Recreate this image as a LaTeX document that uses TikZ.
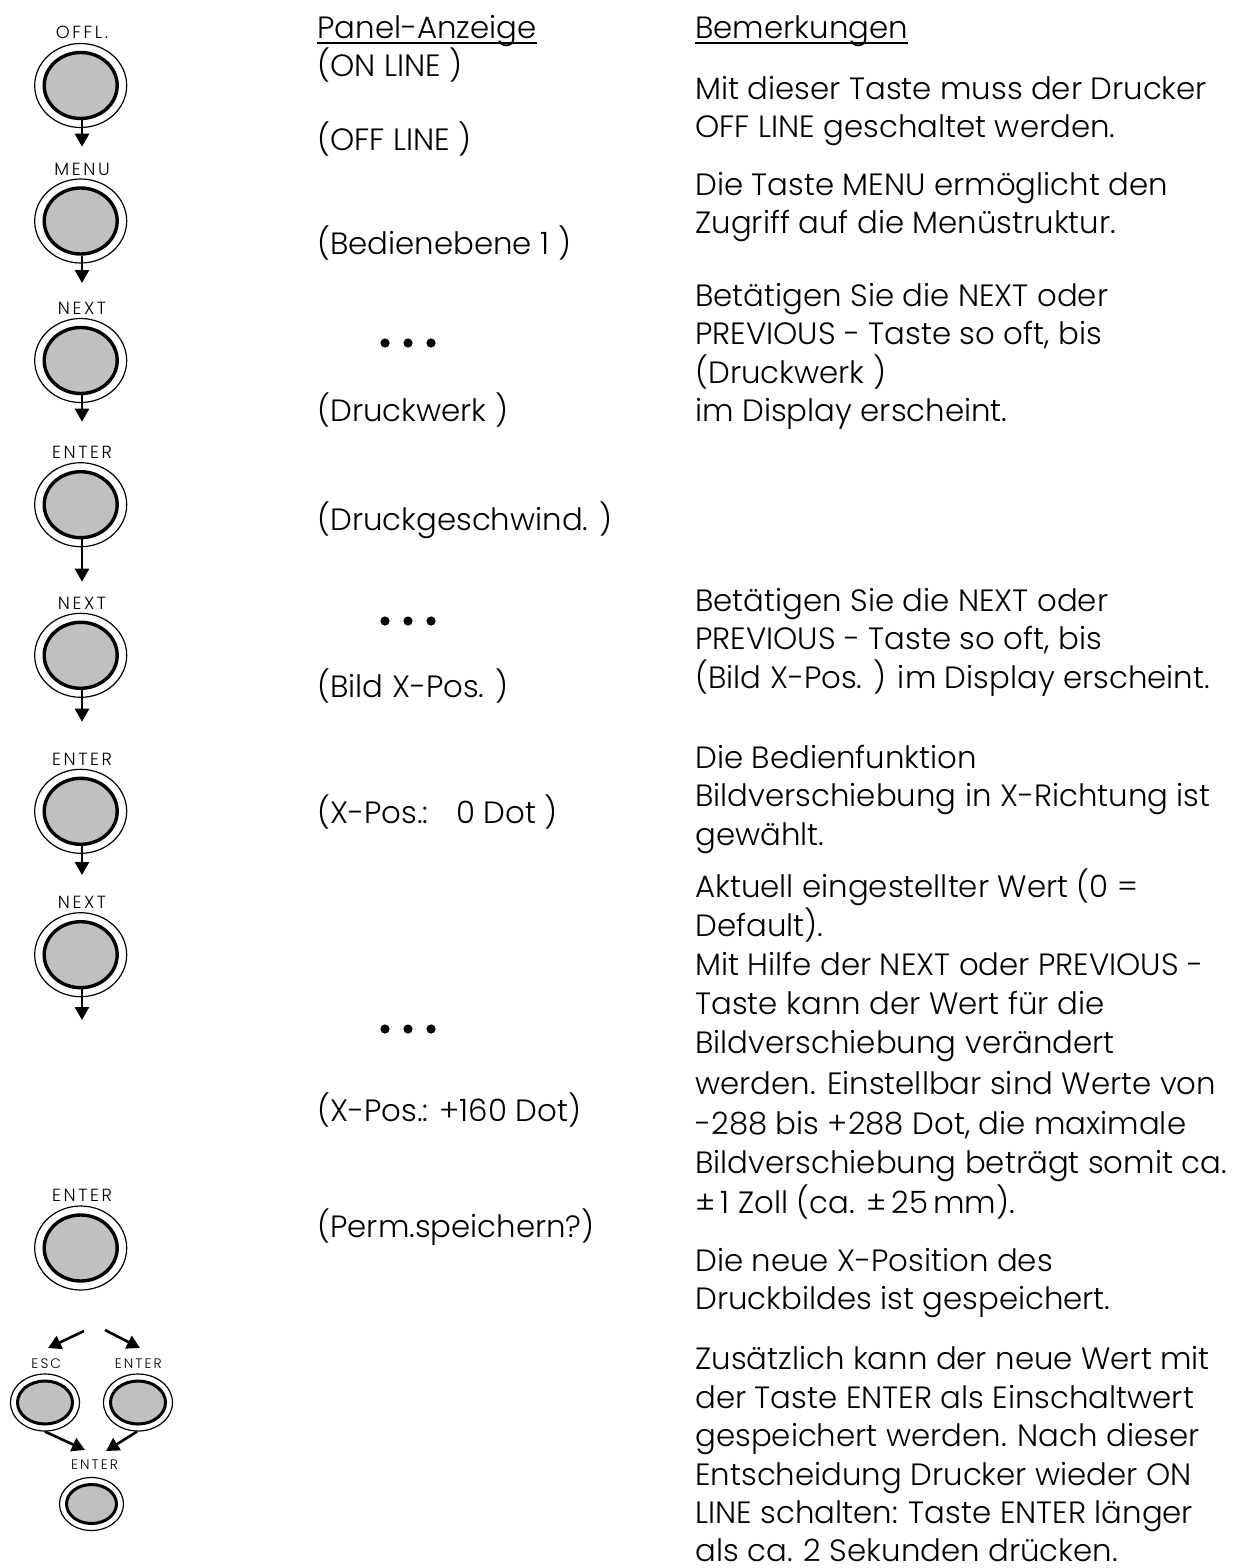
\documentclass[tikz,border=0pt]{standalone}
\usepackage{fontspec}
\setmainfont{Poppins Light}
\newfontfamily\keyfont[LetterSpace=15]{Poppins Light}
\usetikzlibrary{shapes.geometric,arrows.meta}
\definecolor{keygray}{RGB}{192,192,192}
\begin{document}
\begin{tikzpicture}[x=0.5pt,y=-0.5pt,
  txt/.style={anchor=base west, inner sep=0pt, font=\fontsize{15.4}{18}\selectfont},
  keylab/.style={anchor=base, inner sep=0pt, font=\keyfont\fontsize{8.8}{10}\selectfont},
  smalllab/.style={anchor=base, inner sep=0pt, font=\keyfont\fontsize{6.9}{8}\selectfont},
  ring/.style={ellipse, draw, line width=0.6pt, inner sep=0pt, minimum width=46pt, minimum height=42pt},
  knob/.style={ellipse, draw, line width=1.7pt, fill=keygray, inner sep=0pt, minimum width=36.5pt, minimum height=33pt},
  smallring/.style={ellipse, draw, line width=0.6pt, inner sep=0pt, minimum width=34.5pt, minimum height=28.5pt},
  smallknob/.style={ellipse, draw, line width=1.5pt, fill=keygray, inner sep=0pt, minimum width=27.5pt, minimum height=21.5pt},
  arr/.style={line width=1.3pt, -{Triangle[length=6.5pt,width=7pt]}},
  uline/.style={line width=1pt}]
\useasboundingbox (0,0) rectangle (1236,1568);

% main keys
\foreach \n/\yc/\lab/\lb in {1/85.5/OFFL./38.3, 2/221/MENU/176, 3/360.5/NEXT/314.3,
  4/504.7/ENTER/458.3, 5/655.3/NEXT/609.3, 6/811.3/ENTER/765, 7/954.7/NEXT/908.3, 8/1248/ENTER/1201}
{
  \node[ring] (r\n) at (80.7,\yc) {};
  \node[knob] (k\n) at (80.7,\yc) {};
  \node[keylab] (l\n) at (82,\lb) {\lab};
}
\foreach \n/\ye in {1/146.7, 2/283, 3/421.7, 4/581.7, 5/721.7, 6/875, 7/1020}
{
  \coordinate (t\n) at (82,\ye);
  \draw[arr] (k\n.south -| t\n) -- (t\n);
}

% bottom group
\node[smallring] (r9) at (45,1402.5) {};
\node[smallknob] (k9) at (45,1402.5) {};
\node[smalllab] (l9) at (46.3,1368.3) {ESC};
\node[smallring] (r10) at (138,1402.5) {};
\node[smallknob] (k10) at (138,1402.5) {};
\node[smalllab] (l10) at (138.3,1368.3) {ENTER};
\node[smallring, minimum width=32pt, minimum height=26.5pt] (r11) at (91.5,1504) {};
\node[smallknob, minimum width=25pt, minimum height=19.5pt] (k11) at (91.5,1504) {};
\node[smalllab] (l11) at (94.5,1469.3) {ENTER};

\coordinate (s1) at (84,1331);   \coordinate (e1) at (48,1348);
\coordinate (s2) at (105,1330);  \coordinate (e2) at (140,1348);
\coordinate (e3) at (85,1450);
\coordinate (e4) at (106,1451);
\draw[arr] (s1) -- (e1);
\draw[arr] (s2) -- (e2);
\draw[arr] (r9.south) -- (e3);
\draw[arr] ([xshift=-0.5pt]r10.south) -- (e4);

% middle column
\node[txt] (h1) at (317,39) {Panel-Anzeige};
\draw[uline] ([yshift=-2pt]h1.base west) -- ([yshift=-2pt]h1.base east);
\foreach \yy/\txt [count=\i] in {77/{(ON LINE )}, 150/{(OFF LINE )}, 254/{(Bedienebene 1 )},
  421/{(Druckwerk )}, 530/{(Druckgeschwind. )}, 697/{(Bild X-Pos. )},
  823/{(X-Pos.:\hspace{14pt}0 Dot )}, 1121/{(X-Pos.: +160 Dot)}, 1237/{(Perm.speichern?)}}
{
  \node[txt] (m\i) at (317,\yy) {\txt};
}
\foreach \yy in {343, 621, 1029}
{
  \foreach \xx in {385, 408, 431}
    \fill (\xx,\yy) circle (2.3pt);
}

% right column
\node[txt] (h2) at (695,39) {Bemerkungen};
\draw[uline] ([yshift=-2pt]h2.base west) -- ([yshift=-2pt]h2.base east);
\foreach \yy/\txt [count=\i] in {
  100/{Mit dieser Taste muss der Drucker},
  138/{OFF LINE geschaltet werden.},
  195/{Die Taste MENU ermöglicht den},
  233/{Zugriff auf die Menüstruktur.},
  306/{Betätigen Sie die NEXT oder},
  344/{PREVIOUS - Taste so oft, bis},
  383/{(Druckwerk )},
  421/{im Display erscheint.},
  611/{Betätigen Sie die NEXT oder},
  649/{PREVIOUS - Taste so oft, bis},
  688/{(Bild X-Pos. ) im Display erscheint.},
  768/{Die Bedienfunktion},
  806/{Bildverschiebung in X-Richtung ist},
  845/{gewählt.},
  897/{Aktuell eingestellter Wert (0 =},
  936/{Default).},
  975/{Mit Hilfe der NEXT oder PREVIOUS -},
  1014/{Taste kann der Wert für die},
  1053/{Bildverschiebung verändert},
  1094/{werden. Einstellbar sind Werte von},
  1134/{-288 bis +288 Dot, die maximale},
  1173/{Bildverschiebung beträgt somit ca.},
  1213/{±\,1 Zoll (ca. ±\,25\,mm).},
  1271/{Die neue X-Position des},
  1309/{Druckbildes ist gespeichert.},
  1369/{Zusätzlich kann der neue Wert mit},
  1408/{der Taste ENTER als Einschaltwert},
  1446/{gespeichert werden. Nach dieser},
  1485/{Entscheidung Drucker wieder ON},
  1523/{LINE schalten: Taste ENTER länger},
  1561/{als ca. 2 Sekunden drücken.}}
{
  \node[txt] (b\i) at (695,\yy) {\txt};
}
\end{tikzpicture}
\end{document}
